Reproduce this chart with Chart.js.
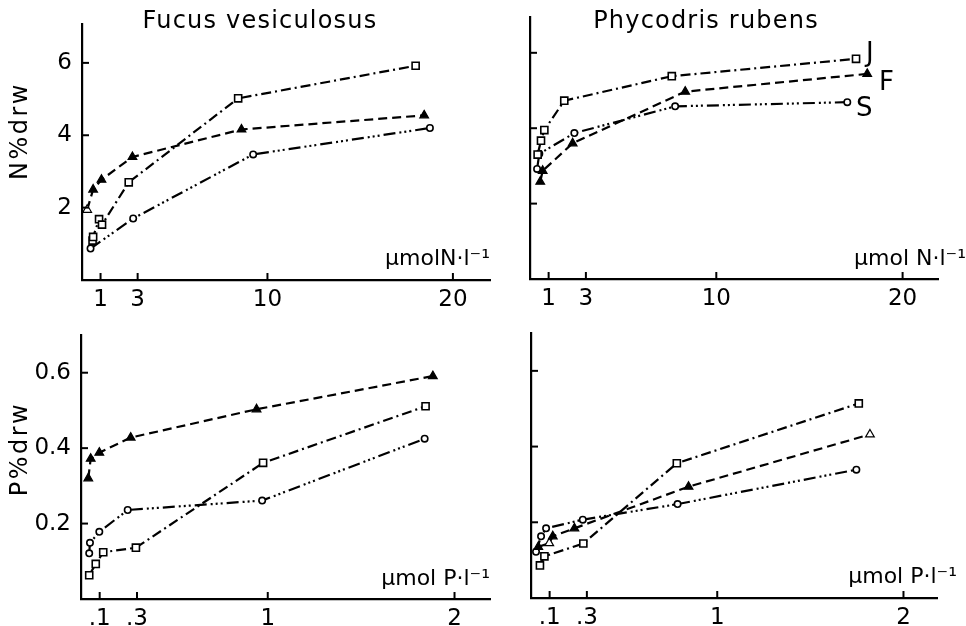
<!DOCTYPE html>
<html>
<head>
<meta charset="utf-8">
<script src="https://cdn.jsdelivr.net/npm/chart.js@4/dist/chart.umd.min.js"></script>
<style>
  body { margin: 0; background: #fff; }
  #wrap { position: relative; width: 966px; height: 626px; }
  #wrap canvas { position: absolute; left: 0; top: 0; }
</style>
</head>
<body>
<div id="wrap">
  <canvas id="fucusN" width="966" height="626"></canvas>
  <canvas id="phycoN" width="966" height="626"></canvas>
  <canvas id="fucusP" width="966" height="626"></canvas>
  <canvas id="phycoP" width="966" height="626"></canvas>
</div>
<script>
/************************************************************************************************************/
// data read off the figure : [concentration, % of dry weight]
// J = squares (dash-dot), F = triangles (dashed), S = circles (dash-dot-dot)

// Fucus vesiculosus, nitrogen (umol N/l)
const fucusN_J = [[0.57, 1.09], [0.6, 1.19], [0.92, 1.68], [1.08, 1.53], [2.52, 2.70], [8.42, 5.02], [17.99, 5.92]];
const fucusN_F = [[0.28, 1.94], [0.6, 2.50], [1.05, 2.77], [2.72, 3.40], [8.6, 4.16], [18.45, 4.55]];
const fucusN_S = [[0.46, 0.87], [2.76, 1.70], [9.23, 3.47], [18.76, 4.20]];

// Phycodris rubens, nitrogen
const phycoN_J = [[0.41, 3.30], [0.59, 3.67], [0.77, 3.95], [1.84, 4.73], [7.61, 5.38], [17.5, 5.84]];
const phycoN_F = [[0.55, 2.58], [0.68, 2.87], [2.29, 3.60], [8.33, 4.97], [18.1, 5.44]];
const phycoN_S = [[0.38, 2.92], [0.5, 3.32], [2.38, 3.87], [7.79, 4.58], [17.03, 4.69]];

// Fucus vesiculosus, phosphorus (umol P/l)
const fucusP_J = [[0.044, 0.063], [0.079, 0.093], [0.119, 0.124], [0.294, 0.136], [0.975, 0.361], [1.845, 0.511]];
const fucusP_F = [[0.039, 0.320], [0.052, 0.372], [0.098, 0.388], [0.266, 0.428], [0.94, 0.503], [1.884, 0.591]];
const fucusP_S = [[0.044, 0.121], [0.048, 0.149], [0.098, 0.178], [0.25, 0.236], [0.97, 0.261], [1.84, 0.425]];

// Phycodris rubens, phosphorus
const phycoP_J = [[0.048, 0.086], [0.072, 0.110], [0.281, 0.144], [0.783, 0.356], [1.76, 0.514]];
const phycoP_F = [[0.039, 0.135], [0.098, 0.145], [0.117, 0.163], [0.233, 0.184], [0.846, 0.294], [1.82, 0.432]];
const phycoP_S = [[0.027, 0.122], [0.054, 0.163], [0.081, 0.184], [0.278, 0.207], [0.787, 0.248], [1.747, 0.339]];

// axis ticks
const nTicks = [1, 3, 10, 20];
const nTickLabels = ['1', '3', '10', '20'];
const pTicks = [0.1, 0.3, 1, 2];
const pTickLabels = ['.1', '.3', '1', '2'];
const nPctTicks = [2, 4, 6];
const nPctLabels = ['2', '4', '6'];
const pPctTicks = [0.2, 0.4, 0.6];
const pPctLabels = ['0.2', '0.4', '0.6'];

/************************************************************************************************************/
const FONT = '"DejaVu Sans", sans-serif';
const TICK_SIZE = 23;
const DASH_J = [10, 4, 2, 4];
const DASH_F = [9, 5];
const DASH_S = [12, 4, 2, 3, 2, 3, 2, 4];
const Y_AXIS_W = 70;   // room kept for the y tick labels
const X_AXIS_H = 40;   // room kept for the x tick labels

function pts (arr) {
  return arr.map(p => ({ x: p[0], y: p[1] }));
}

function series (arr, kind, openIdx) {
  openIdx = openIdx || [];
  const ds = {
    data: pts(arr),
    borderColor: '#000',
    borderWidth: 2.2,
    pointBorderColor: '#000',
    pointBorderWidth: 1.6,
    fill: false,
    tension: 0,
  };
  if (kind === 'J') {
    ds.borderDash = DASH_J;
    ds.pointStyle = 'rect';
    ds.pointRadius = 5;
    ds.pointBackgroundColor = '#fff';
  } else if (kind === 'F') {
    ds.borderDash = DASH_F;
    ds.pointStyle = 'triangle';
    ds.pointRadius = 5;
    ds.pointBorderWidth = 1.2;
    ds.pointBackgroundColor = arr.map((p, i) => openIdx.indexOf(i) >= 0 ? '#fff' : '#000');
  } else {
    ds.borderDash = DASH_S;
    ds.pointStyle = 'circle';
    ds.pointRadius = 3.2;
    ds.pointBackgroundColor = '#fff';
  }
  return ds;
}

// tick marks pointing into the plot + free text
const panelDecor = {
  id: 'panelDecor',
  afterDraw (chart, args, opts) {
    const ctx = chart.ctx;
    const xs = chart.scales.x;
    const ys = chart.scales.y;
    ctx.save();
    ctx.strokeStyle = '#000';
    ctx.lineWidth = 2;
    xs.ticks.forEach(t => {
      const px = xs.getPixelForValue(t.value);
      ctx.beginPath();
      ctx.moveTo(px, chart.chartArea.bottom);
      ctx.lineTo(px, chart.chartArea.bottom - 7);
      ctx.stroke();
    });
    ys.ticks.forEach(t => {
      const py = ys.getPixelForValue(t.value);
      ctx.beginPath();
      ctx.moveTo(chart.chartArea.left, py);
      ctx.lineTo(chart.chartArea.left + 7, py);
      ctx.stroke();
    });
    ctx.fillStyle = '#000';
    (opts.texts || []).forEach(t => {
      ctx.save();
      ctx.font = (t.size || 22) + 'px ' + FONT;
      ctx.letterSpacing = (t.spacing || 0) + 'px';
      ctx.textAlign = t.align || 'left';
      ctx.textBaseline = 'middle';
      ctx.translate(t.x, t.y);
      if (t.rotate) ctx.rotate(t.rotate);
      ctx.fillText(t.text, 0, 0);
      ctx.restore();
    });
    ctx.restore();
  }
};

function makePanel (id, area, xMax, yMax, xTicks, xLabels, yTicks, yLabels, datasets, texts) {
  const ctx = document.getElementById(id).getContext('2d');
  const xh = Math.min(X_AXIS_H, 626 - area[3]);
  return new Chart(ctx, {
    type: 'line',
    data: { datasets: datasets },
    plugins: [panelDecor],
    options: {
      responsive: false,
      animation: false,
      devicePixelRatio: 1,
      layout: {
        autoPadding: false,
        padding: { left: area[0] - Y_AXIS_W, top: area[1], right: 966 - area[2], bottom: 626 - area[3] - xh },
      },
      plugins: {
        legend: { display: false },
        tooltip: { enabled: false },
        panelDecor: { texts: texts },
      },
      scales: {
        x: {
          type: 'linear',
          min: 0,
          max: xMax,
          afterFit: s => { s.height = xh; },
          afterBuildTicks: s => { s.ticks = xTicks.map(v => ({ value: v })); },
          grid: { drawOnChartArea: false, drawTicks: false },
          border: { color: '#000', width: 2.2 },
          ticks: {
            display: !!xLabels,
            padding: 6,
            autoSkip: false,
            maxRotation: 0,
            minRotation: 0,
            color: '#000',
            font: { family: FONT, size: TICK_SIZE },
            callback: v => xLabels ? xLabels[xTicks.indexOf(v)] : '',
          },
        },
        y: {
          type: 'linear',
          min: 0,
          max: yMax,
          afterFit: s => { s.width = Y_AXIS_W; },
          afterBuildTicks: s => { s.ticks = yTicks.map(v => ({ value: v })); },
          grid: { drawOnChartArea: false, drawTicks: false },
          border: { color: '#000', width: 2.2 },
          ticks: {
            display: !!yLabels,
            padding: 10,
            color: '#000',
            font: { family: FONT, size: TICK_SIZE },
            callback: v => yLabels ? yLabels[yTicks.indexOf(v)] : '',
          },
        },
      },
    },
  });
}

/************************************************************************************************************/
makePanel('fucusN', [82, 13, 490, 280], 22.0, 7.08, nTicks, nTickLabels, nPctTicks, nPctLabels,
  [series(fucusN_J, 'J'), series(fucusN_F, 'F', [0]), series(fucusN_S, 'S')],
  [
    { text: 'Fucus vesiculosus', x: 260, y: 22, align: 'center', size: 24, spacing: 1.2 },
    { text: 'N%drw', x: 21, y: 131, align: 'center', rotate: -Math.PI / 2, size: 24, spacing: 2.5 },
    { text: 'µmolN·l⁻¹', x: 490, y: 259, align: 'right' },
  ]);

makePanel('phycoN', [530, 17, 938, 279], 21.9, 6.95, nTicks, nTickLabels, nPctTicks, null,
  [series(phycoN_J, 'J'), series(phycoN_F, 'F'), series(phycoN_S, 'S')],
  [
    { text: 'Phycodris rubens', x: 706, y: 22, align: 'center', size: 24, spacing: 1.2 },
    { text: 'µmol N·l⁻¹', x: 966, y: 259, align: 'right' },
    { text: 'J', x: 866, y: 54, size: 26 },
    { text: 'F', x: 879, y: 83, size: 26 },
    { text: 'S', x: 856, y: 109, size: 26 },
  ]);

makePanel('fucusP', [81, 335, 490, 599], 2.19, 0.70, pTicks, pTickLabels, pPctTicks, pPctLabels,
  [series(fucusP_J, 'J'), series(fucusP_F, 'F'), series(fucusP_S, 'S')],
  [
    { text: 'P%drw', x: 21, y: 449, align: 'center', rotate: -Math.PI / 2, size: 24, spacing: 2.5 },
    { text: 'µmol P·l⁻¹', x: 490, y: 579, align: 'right' },
  ]);

makePanel('phycoP', [531, 333, 937, 598], 2.18, 0.70, pTicks, pTickLabels, pPctTicks, null,
  [series(phycoP_J, 'J'), series(phycoP_F, 'F', [1, 5]), series(phycoP_S, 'S')],
  [
    { text: 'µmol P·l⁻¹', x: 957, y: 577, align: 'right' },
  ]);
</script>
</body>
</html>
